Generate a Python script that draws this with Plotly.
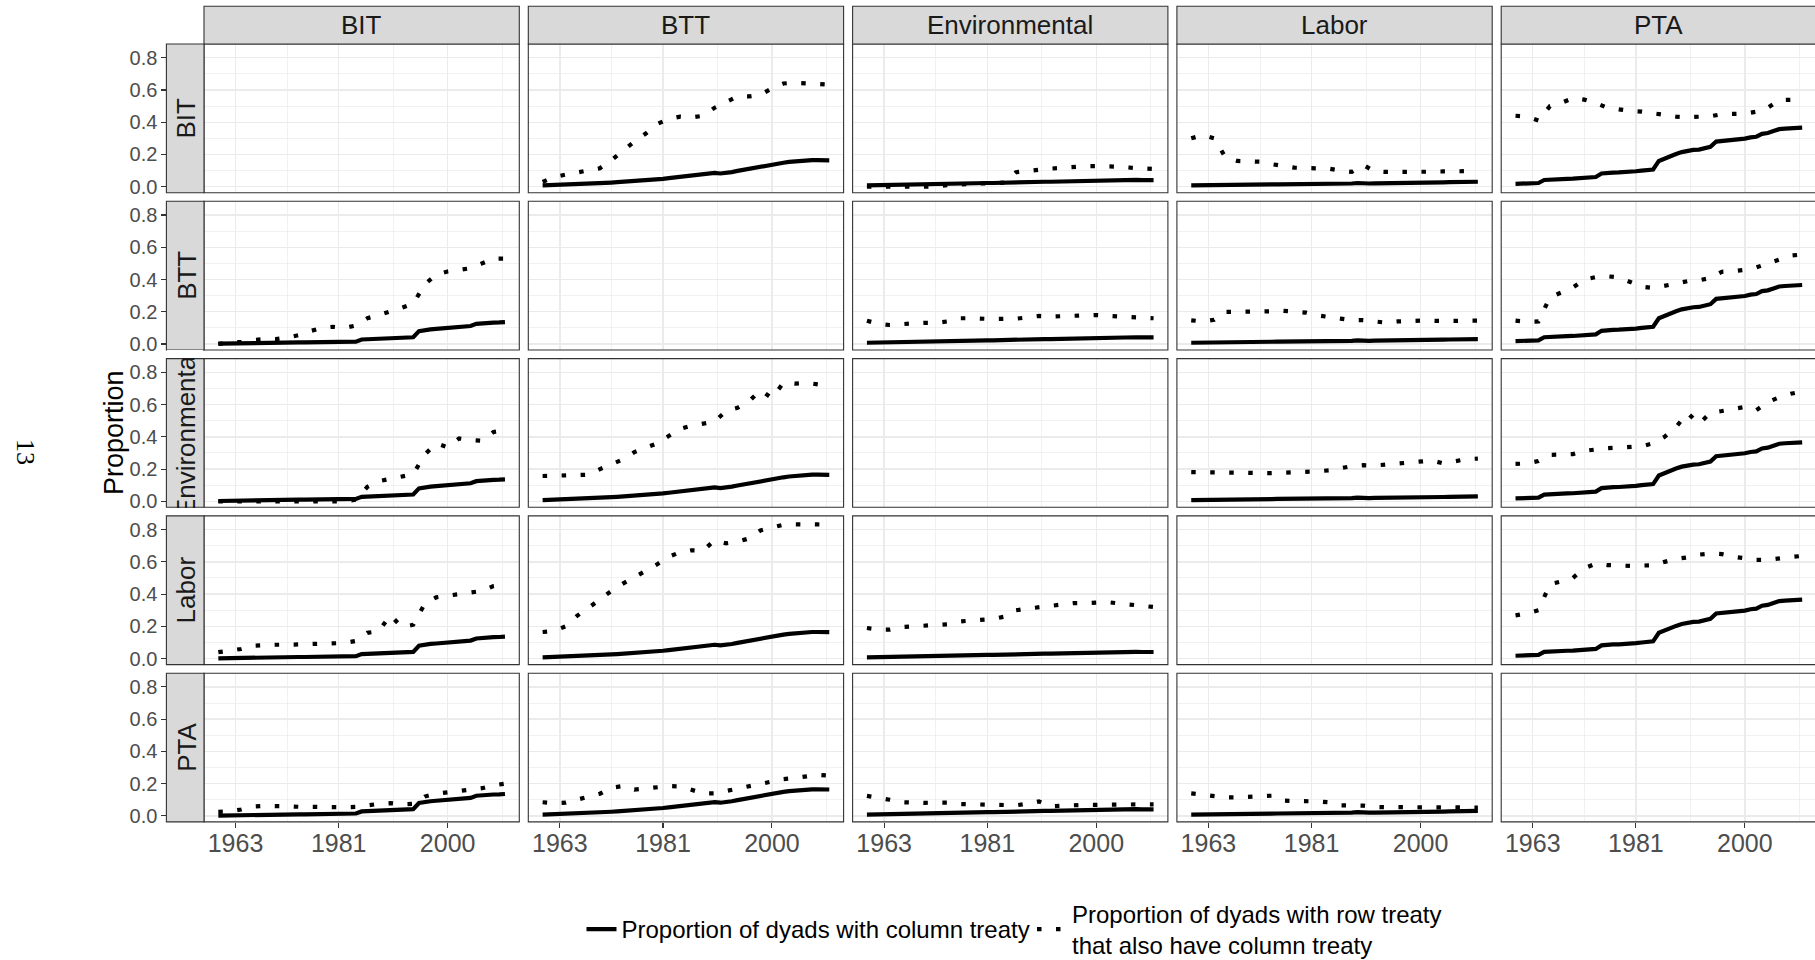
import plotly.graph_objects as go

# ---------------- data ----------------
TREATIES = ["BIT", "BTT", "Environmental", "Labor", "PTA"]
YEARS = list(range(1960, 2011))          # annual, for column-treaty series
YEARS_2 = list(range(1960, 2011, 2))     # biennial, for row/column overlap series

# Proportion of dyads with column treaty (one per column)
COL_BIT = [0.002, 0.003, 0.003, 0.004, 0.004, 0.005, 0.006, 0.006, 0.007, 0.007,
           0.008, 0.008, 0.009, 0.009, 0.010, 0.010, 0.011, 0.011, 0.012, 0.012,
           0.013, 0.013, 0.014, 0.014, 0.015, 0.028, 0.030, 0.031, 0.032, 0.033,
           0.037, 0.034, 0.036, 0.038, 0.042, 0.080, 0.087, 0.091, 0.094, 0.097,
           0.100, 0.103, 0.106, 0.109, 0.112, 0.125, 0.129, 0.131, 0.133, 0.134, 0.136]
COL_BTT = [0.008, 0.009, 0.010, 0.011, 0.012, 0.013, 0.014, 0.016, 0.018, 0.020,
           0.022, 0.024, 0.026, 0.028, 0.030, 0.032, 0.034, 0.036, 0.038, 0.041,
           0.045, 0.049, 0.053, 0.057, 0.062, 0.067, 0.072, 0.075, 0.078, 0.082,
           0.086, 0.082, 0.085, 0.091, 0.098, 0.105, 0.112, 0.119, 0.126, 0.133,
           0.139, 0.144, 0.149, 0.154, 0.158, 0.162, 0.165, 0.165, 0.165, 0.164, 0.164]
COL_ENV = [0.008, 0.009, 0.010, 0.011, 0.012, 0.012, 0.013, 0.014, 0.015, 0.015,
           0.016, 0.017, 0.017, 0.018, 0.019, 0.019, 0.020, 0.021, 0.021, 0.022,
           0.022, 0.023, 0.023, 0.024, 0.025, 0.026, 0.027, 0.028, 0.029, 0.031,
           0.036, 0.031, 0.031, 0.032, 0.033, 0.034, 0.035, 0.036, 0.037, 0.038,
           0.041, 0.038, 0.038, 0.039, 0.040, 0.040, 0.041, 0.042, 0.041, 0.040, 0.041]
COL_LAB = [0.008, 0.008, 0.009, 0.009, 0.010, 0.010, 0.011, 0.011, 0.012, 0.012,
           0.013, 0.013, 0.014, 0.014, 0.014, 0.015, 0.015, 0.015, 0.016, 0.016,
           0.016, 0.017, 0.017, 0.017, 0.018, 0.018, 0.019, 0.019, 0.020, 0.023,
           0.020, 0.020, 0.021, 0.021, 0.022, 0.022, 0.023, 0.024, 0.024, 0.025,
           0.025, 0.026, 0.026, 0.027, 0.027, 0.028, 0.028, 0.029, 0.030, 0.030, 0.031]
COL_PTA = [0.018, 0.019, 0.020, 0.021, 0.023, 0.042, 0.045, 0.046, 0.047, 0.049,
           0.050, 0.052, 0.054, 0.056, 0.060, 0.082, 0.087, 0.088, 0.089, 0.090,
           0.093, 0.096, 0.100, 0.104, 0.107, 0.160, 0.175, 0.195, 0.203, 0.215,
           0.224, 0.228, 0.230, 0.238, 0.247, 0.280, 0.284, 0.286, 0.288, 0.290,
           0.298, 0.306, 0.310, 0.328, 0.333, 0.345, 0.357, 0.360, 0.362, 0.364, 0.366]

# Proportion of dyads with row treaty that also have column treaty (row_col)
BIT_BTT = [0.03, 0.06, 0.075, 0.088, 0.10, 0.115, 0.165, 0.225, 0.28, 0.33, 0.39, 0.42, 0.435,
           0.43, 0.44, 0.49, 0.525, 0.56, 0.56, 0.57, 0.61, 0.64, 0.645, 0.641, 0.637, 0.633]
BIT_ENV = [0.0, 0.0, 0.0, 0.0, 0.0, 0.0, 0.0, 0.01, 0.015, 0.02, 0.02, 0.022, 0.025,
           0.09, 0.10, 0.105, 0.112, 0.118, 0.122, 0.127, 0.128, 0.128, 0.124, 0.118, 0.113, 0.11]
BIT_LAB = [0.30, 0.32, 0.30, 0.18, 0.16, 0.155, 0.155, 0.14, 0.13, 0.118, 0.116, 0.115, 0.112,
           0.10, 0.092, 0.135, 0.095, 0.092, 0.091, 0.092, 0.093, 0.093, 0.095, 0.097, 0.097, 0.097]
BIT_PTA = [0.44, 0.435, 0.41, 0.50, 0.52, 0.55, 0.54, 0.52, 0.49, 0.478, 0.47, 0.466, 0.455,
           0.445, 0.435, 0.431, 0.432, 0.437, 0.45, 0.453, 0.453, 0.465, 0.49, 0.537, 0.54, 0.541]

BTT_BIT = [0.0, 0.01, 0.012, 0.025, 0.03, 0.03, 0.04, 0.055, 0.08, 0.10, 0.107, 0.10, 0.115,
           0.16, 0.18, 0.20, 0.225, 0.25, 0.37, 0.43, 0.45, 0.46, 0.47, 0.50, 0.53, 0.53]
BTT_ENV = [0.145, 0.125, 0.118, 0.125, 0.128, 0.131, 0.131, 0.14, 0.16, 0.16, 0.156, 0.155, 0.156,
           0.157, 0.165, 0.174, 0.17, 0.172, 0.174, 0.18, 0.18, 0.175, 0.17, 0.167, 0.163, 0.16]
BTT_LAB = [0.147, 0.14, 0.15, 0.20, 0.20, 0.20, 0.198, 0.203, 0.206, 0.202, 0.195, 0.178, 0.165,
           0.158, 0.147, 0.148, 0.14, 0.132, 0.14, 0.145, 0.145, 0.143, 0.14, 0.143, 0.145, 0.145]
BTT_PTA = [0.145, 0.138, 0.14, 0.29, 0.32, 0.35, 0.40, 0.415, 0.42, 0.413, 0.385, 0.355, 0.347,
           0.358, 0.375, 0.39, 0.395, 0.41, 0.448, 0.452, 0.46, 0.475, 0.50, 0.525, 0.548, 0.555]

ENV_BIT = [0.0, 0.0, 0.0, 0.0, 0.0, 0.0, 0.0, 0.0, 0.0, 0.0, 0.0, 0.0, 0.01,
           0.09, 0.125, 0.14, 0.155, 0.168, 0.29, 0.36, 0.335, 0.39, 0.38, 0.375, 0.43, 0.44]
ENV_BTT = [0.157, 0.158, 0.159, 0.159, 0.165, 0.20, 0.23, 0.26, 0.305, 0.33, 0.36, 0.405, 0.45,
           0.47, 0.482, 0.494, 0.56, 0.58, 0.62, 0.69, 0.64, 0.735, 0.73, 0.735, 0.725, 0.72]
ENV_LAB = [0.181, 0.18, 0.178, 0.174, 0.175, 0.177, 0.176, 0.175, 0.177, 0.179, 0.181, 0.186, 0.192,
           0.207, 0.218, 0.224, 0.222, 0.228, 0.234, 0.24, 0.248, 0.253, 0.235, 0.25, 0.262, 0.265]
ENV_PTA = [0.232, 0.235, 0.25, 0.288, 0.29, 0.293, 0.313, 0.323, 0.33, 0.333, 0.337, 0.341, 0.36,
           0.40, 0.46, 0.549, 0.48, 0.55, 0.56, 0.575, 0.585, 0.565, 0.615, 0.645, 0.667, 0.68]

LAB_BIT = [0.04, 0.05, 0.06, 0.08, 0.085, 0.086, 0.086, 0.088, 0.092, 0.094, 0.094, 0.097, 0.11,
           0.16, 0.17, 0.27, 0.195, 0.21, 0.34, 0.38, 0.39, 0.40, 0.405, 0.42, 0.45, 0.46]
LAB_BTT = [0.165, 0.172, 0.20, 0.265, 0.315, 0.37, 0.42, 0.465, 0.505, 0.54, 0.585, 0.632, 0.66,
           0.672, 0.67, 0.734, 0.715, 0.725, 0.745, 0.795, 0.81, 0.83, 0.833, 0.835, 0.832, 0.83]
LAB_ENV = [0.19, 0.18, 0.18, 0.195, 0.20, 0.203, 0.207, 0.213, 0.23, 0.237, 0.242, 0.246, 0.26,
           0.30, 0.31, 0.318, 0.332, 0.34, 0.344, 0.344, 0.347, 0.35, 0.342, 0.333, 0.323, 0.32]
LAB_PTA = [0.268, 0.28, 0.30, 0.462, 0.478, 0.50, 0.56, 0.589, 0.58, 0.575, 0.575, 0.577, 0.579,
           0.60, 0.618, 0.628, 0.645, 0.652, 0.648, 0.632, 0.622, 0.612, 0.612, 0.618, 0.63, 0.637]

PTA_BIT = [0.025, 0.028, 0.04, 0.058, 0.062, 0.063, 0.06, 0.057, 0.055, 0.055, 0.055, 0.054, 0.056,
           0.068, 0.075, 0.079, 0.072, 0.075, 0.12, 0.138, 0.147, 0.155, 0.163, 0.172, 0.19, 0.20]
PTA_BTT = [0.085, 0.08, 0.082, 0.10, 0.12, 0.138, 0.175, 0.185, 0.163, 0.17, 0.175, 0.185, 0.183,
           0.16, 0.14, 0.14, 0.155, 0.17, 0.188, 0.20, 0.218, 0.228, 0.235, 0.248, 0.255, 0.25]
PTA_ENV = [0.124, 0.115, 0.10, 0.085, 0.081, 0.081, 0.083, 0.082, 0.074, 0.072, 0.072, 0.07, 0.068,
           0.066, 0.075, 0.09, 0.06, 0.064, 0.068, 0.069, 0.069, 0.069, 0.072, 0.075, 0.073, 0.072]
PTA_LAB = [0.14, 0.132, 0.122, 0.115, 0.115, 0.116, 0.122, 0.125, 0.095, 0.093, 0.093, 0.09, 0.085,
           0.066, 0.065, 0.064, 0.055, 0.054, 0.054, 0.054, 0.054, 0.054, 0.054, 0.054, 0.053, 0.052]

X_TICKS = [1963, 1981, 2000]
Y_TICKS = [0.0, 0.2, 0.4, 0.6, 0.8]
Y_TICKTEXT = ["0.0", "0.2", "0.4", "0.6", "0.8"]
LEGEND_SOLID = "Proportion of dyads with column treaty"
LEGEND_DOTTED = "Proportion of dyads with row treaty<br>that also have column treaty"

COLUMN_SERIES = dict(zip(TREATIES, [COL_BIT, COL_BTT, COL_ENV, COL_LAB, COL_PTA]))
PAIR_SERIES = {
    ("BIT", "BTT"): BIT_BTT, ("BIT", "Environmental"): BIT_ENV, ("BIT", "Labor"): BIT_LAB, ("BIT", "PTA"): BIT_PTA,
    ("BTT", "BIT"): BTT_BIT, ("BTT", "Environmental"): BTT_ENV, ("BTT", "Labor"): BTT_LAB, ("BTT", "PTA"): BTT_PTA,
    ("Environmental", "BIT"): ENV_BIT, ("Environmental", "BTT"): ENV_BTT, ("Environmental", "Labor"): ENV_LAB,
    ("Environmental", "PTA"): ENV_PTA,
    ("Labor", "BIT"): LAB_BIT, ("Labor", "BTT"): LAB_BTT, ("Labor", "Environmental"): LAB_ENV, ("Labor", "PTA"): LAB_PTA,
    ("PTA", "BIT"): PTA_BIT, ("PTA", "BTT"): PTA_BTT, ("PTA", "Environmental"): PTA_ENV, ("PTA", "Labor"): PTA_LAB,
}

# ---------------- layout geometry (pixels) ----------------
W, H = 1815, 960
COL_LEFT = [204.0, 528.3, 852.6, 1176.9, 1501.2]
PANEL_W = 315.3
ROW_TOP = [44.0, 201.3, 358.6, 515.9, 673.2]
PANEL_H = 148.7
STRIP_LEFT = 166.4
HEAD_TOP = 6.3
X_RANGE = [1957.5, 2012.5]
Y_RANGE = [-0.037, 0.885]

FONT = "Liberation Sans, Arial, Helvetica, sans-serif"
GRID = "#EBEBEB"
DARK = "#333333"
STRIP_FILL = "#D9D9D9"


def px_x(x):
    return x / W


def px_y(y):
    return 1 - y / H


fig = go.Figure()
layout = dict(
    width=W, height=H, margin=dict(l=0, r=0, t=0, b=0, pad=0, autoexpand=False),
    paper_bgcolor="white", plot_bgcolor="white",
    font=dict(family=FONT, color="black"),
    showlegend=True,
    shapes=[], annotations=[],
)

legend_done = {"solid": False, "dot": False}
for r, row_name in enumerate(TREATIES):
    for c, col_name in enumerate(TREATIES):
        idx = r * 5 + c + 1
        xa = "x" if idx == 1 else f"x{idx}"
        ya = "y" if idx == 1 else f"y{idx}"
        xkey = "xaxis" if idx == 1 else f"xaxis{idx}"
        ykey = "yaxis" if idx == 1 else f"yaxis{idx}"

        x0 = COL_LEFT[c]
        x1 = min(COL_LEFT[c] + PANEL_W, W)
        xr = [X_RANGE[0], X_RANGE[0] + (x1 - x0) * (X_RANGE[1] - X_RANGE[0]) / PANEL_W]
        y_top = ROW_TOP[r]
        y_bot = ROW_TOP[r] + PANEL_H

        bottom = r == 4
        left = c == 0
        layout[xkey] = dict(
            domain=[px_x(x0), px_x(x1)], anchor=ya, range=xr, fixedrange=True,
            tickvals=X_TICKS, ticktext=[str(v) for v in X_TICKS],
            showticklabels=bottom, ticks="outside" if bottom else "",
            ticklen=5, tickwidth=1.1, tickcolor=DARK, ticklabelstandoff=-6,
            tickfont=dict(size=25, color="#4D4D4D", family=FONT),
            showgrid=True, gridcolor=GRID, gridwidth=1.4, zeroline=False, showline=False,
            automargin=False,
            minor=dict(tickvals=[1953.5, 1972, 1990.5, 2009.5], showgrid=True,
                       gridcolor=GRID, gridwidth=0.7),
        )
        ydict = dict(
            domain=[px_y(y_bot), px_y(y_top)], range=Y_RANGE, fixedrange=True,
            tickvals=Y_TICKS, ticktext=Y_TICKTEXT,
            showticklabels=left, ticks="outside" if left else "",
            ticklen=5, tickwidth=1.1, tickcolor=DARK,
            tickfont=dict(size=20, color="#4D4D4D", family=FONT),
            showgrid=True, gridcolor=GRID, gridwidth=1.4, zeroline=False, showline=False,
            automargin=False,
            minor=dict(tickvals=[0.1, 0.3, 0.5, 0.7], showgrid=True,
                       gridcolor=GRID, gridwidth=0.7),
        )
        if left:
            ydict.update(anchor="free", position=px_x(STRIP_LEFT))
        else:
            ydict.update(anchor=xa)
        layout[ykey] = ydict

        # panel border
        layout["shapes"].append(dict(
            type="rect", xref="paper", yref="paper", layer="above",
            x0=px_x(x0), x1=px_x(COL_LEFT[c] + PANEL_W), y0=px_y(y_bot), y1=px_y(y_top),
            line=dict(color=DARK, width=1.1), fillcolor="rgba(0,0,0,0)"))

        if r == c:
            fig.add_trace(go.Scatter(x=[], y=[], xaxis=xa, yaxis=ya, showlegend=False,
                                     hoverinfo="skip"))
            continue

        fig.add_trace(go.Scatter(
            x=YEARS, y=COLUMN_SERIES[col_name], xaxis=xa, yaxis=ya, mode="lines",
            line=dict(color="black", width=4.2), name=LEGEND_SOLID, legend="legend",
            legendgroup="solid", showlegend=not legend_done["solid"], hoverinfo="skip"))
        legend_done["solid"] = True
        fig.add_trace(go.Scatter(
            x=YEARS_2, y=PAIR_SERIES[(row_name, col_name)], xaxis=xa, yaxis=ya, mode="lines",
            line=dict(color="black", width=4.2, dash="4.5px,14.5px"), name=LEGEND_DOTTED,
            legend="legend2",
            legendgroup="dot", showlegend=not legend_done["dot"], hoverinfo="skip"))
        legend_done["dot"] = True

# column strips (top)
for c, name in enumerate(TREATIES):
    x0 = COL_LEFT[c]
    x1 = COL_LEFT[c] + PANEL_W
    layout["shapes"].append(dict(
        type="rect", xref="paper", yref="paper", layer="above",
        x0=px_x(x0), x1=px_x(x1), y0=px_y(ROW_TOP[0]), y1=px_y(HEAD_TOP),
        line=dict(color=DARK, width=1.1), fillcolor=STRIP_FILL))
    layout["annotations"].append(dict(
        text=name, xref="paper", yref="paper", showarrow=False,
        x=px_x((x0 + x1) / 2), y=px_y((HEAD_TOP + ROW_TOP[0]) / 2),
        xanchor="center", yanchor="middle",
        font=dict(size=26, color="#1A1A1A", family=FONT)))

# row strips (left)
for r, name in enumerate(TREATIES):
    y0 = ROW_TOP[r]
    y1 = ROW_TOP[r] + PANEL_H
    layout["shapes"].append(dict(
        type="rect", xref="paper", yref="paper", layer="above",
        x0=px_x(STRIP_LEFT), x1=px_x(COL_LEFT[0]), y0=px_y(y1), y1=px_y(y0),
        line=dict(color=DARK, width=1.1), fillcolor=STRIP_FILL))
    layout["annotations"].append(dict(
        text=name, xref="paper", yref="paper", showarrow=False, textangle=-90,
        x=px_x((STRIP_LEFT + COL_LEFT[0]) / 2 + 1), y=px_y((y0 + y1) / 2),
        xanchor="center", yanchor="middle",
        font=dict(size=26, color="#1A1A1A", family=FONT)))

# clip the overflowing "Environmental" row label (gaps above/below its strip)
r = 2
for gy0, gy1, col in [
    (ROW_TOP[r] - 8.2, ROW_TOP[r] - 0.7, "white"),
    (ROW_TOP[r] + PANEL_H + 0.7, ROW_TOP[r + 1] - 0.7, "white"),
    (ROW_TOP[r] - 13.0, ROW_TOP[r] - 9.4, STRIP_FILL),
    (ROW_TOP[r + 1] + 0.7, ROW_TOP[r + 1] + 4.0, STRIP_FILL),
]:
    layout["annotations"].append(dict(
        text=" ", xref="paper", yref="paper", showarrow=False,
        x=px_x((STRIP_LEFT + COL_LEFT[0]) / 2), y=px_y((gy0 + gy1) / 2),
        xanchor="center", yanchor="middle", borderpad=0, borderwidth=0,
        width=COL_LEFT[0] - STRIP_LEFT - 1.6, height=gy1 - gy0, bgcolor=col,
        font=dict(size=2)))

# y-axis title
layout["annotations"].append(dict(
    text="Proportion", xref="paper", yref="paper", showarrow=False, textangle=-90,
    x=px_x(114), y=px_y((ROW_TOP[0] + ROW_TOP[4] + PANEL_H) / 2),
    xanchor="center", yanchor="middle", font=dict(size=27, color="black", family=FONT)))

# page number of the source document
layout["annotations"].append(dict(
    text="13", xref="paper", yref="paper", showarrow=False, textangle=90,
    x=px_x(26), y=px_y(452), xanchor="center", yanchor="middle",
    font=dict(size=26, color="black", family="Liberation Serif, DejaVu Serif, serif")))

LEG_Y = 929.5
layout["legend"] = dict(
    orientation="h", x=px_x(581.5), xanchor="left", y=px_y(LEG_Y), yanchor="middle",
    font=dict(size=24, color="black", family=FONT), itemwidth=30,
    bgcolor="rgba(0,0,0,0)", valign="middle")
layout["legend2"] = dict(
    orientation="h", x=px_x(1032), xanchor="left", y=px_y(LEG_Y), yanchor="middle",
    font=dict(size=24, color="black", family=FONT), itemwidth=30,
    bgcolor="rgba(0,0,0,0)", valign="middle")

fig.update_layout(**layout)
fig.write_html(
    "out.html",
    config={"displayModeBar": False, "staticPlot": True},
    post_script="document.body.style.margin='0px';document.body.style.overflow='hidden';",
)
